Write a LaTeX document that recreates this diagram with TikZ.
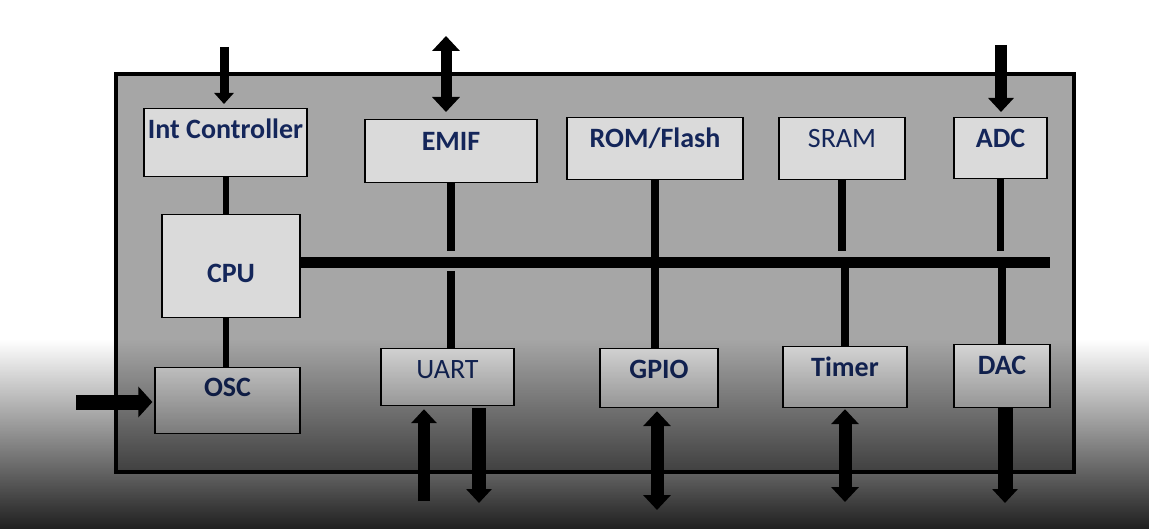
\documentclass[tikz,border=0pt]{standalone}
\usepackage{fontspec}
\setmainfont{Carlito}
\usetikzlibrary{arrows.meta,fadings}
\definecolor{chipgray}{RGB}{166,166,166}
\definecolor{boxgray}{RGB}{218,218,218}
\definecolor{labelblue}{RGB}{20,38,90}

\begin{document}
\begin{tikzpicture}[x=1pt,y=-1pt,
   blk/.style={draw=black,line width=1.2pt,fill=boxgray,inner sep=0pt,anchor=north,
      text=labelblue,font=\fontsize{28}{32}\selectfont\bfseries},
   plain/.style={font=\fontsize{28}{32}\selectfont},
   bus/.style={line width=11pt},
   link/.style={line width=7.5pt},
   io/.style={line width=#1,-{Triangle[width=25pt,length=14pt]}},
   iobi/.style={line width=#1,{Triangle[width=27pt,length=15pt]}-{Triangle[width=27pt,length=15pt]}}]
\fill[white] (0,0) rectangle (1149,529);
\useasboundingbox (0,0) rectangle (1149,529);
\draw[line width=4pt,fill=chipgray] (116,74) rectangle (1074,472);
\node[blk,minimum width=163pt,text height=29.5pt,text depth=38.5pt] (ic) at (225.5,108) {Int Controller};
\node[blk,minimum width=172pt,text height=30.5pt,text depth=32.5pt] (emif) at (451,119) {EMIF};
\node[blk,minimum width=176pt,text height=29.5pt,text depth=32.5pt] (rom) at (655,117) {ROM/Flash};
\node[blk,plain,minimum width=126pt,text height=29.5pt,text depth=32.5pt] (sram) at (842,117) {SRAM};
\node[blk,minimum width=93pt,text height=29.5pt,text depth=31.5pt] (adc) at (1000.5,117) {ADC};
\node[blk,minimum width=138pt,text height=67.5pt,text depth=35.5pt] (cpu) at (231,214) {CPU};
\node[blk,minimum width=145pt,text height=28.5pt,text depth=37.5pt] (osc) at (227.5,367) {OSC};
\node[blk,plain,minimum width=133pt,text height=29.5pt,text depth=27.5pt] (uart) at (447.5,348) {UART};
\node[blk,minimum width=118pt,text height=29.5pt,text depth=29.5pt] (gpio) at (659,348) {GPIO};
\node[blk,minimum width=124pt,text height=29.5pt,text depth=31.5pt] (timer) at (845,346) {Timer};
\node[blk,minimum width=96pt,text height=29.5pt,text depth=33.5pt] (dac) at (1002,344) {DAC};
\coordinate (busend) at (1050,262.5);
\coordinate (busup) at (0,251);
\coordinate (busdn) at (0,271);
\draw[bus] (cpu.east |- busend) -- (busend);
\draw[line width=6pt] (ic) -- (ic |- cpu.north);
\draw[line width=6pt] (ic |- cpu.south) -- (ic |- osc.north);
\draw[link] (emif) -- (emif |- busup);
\draw[link] (emif |- busdn) -- (emif |- uart.north);
\draw[link] (rom) -- (rom |- gpio.north);
\draw[link] (sram) -- (sram |- busup);
\draw[link] (timer |- busend) -- (timer);
\draw[link] (adc) -- (adc |- busup);
\draw[link] (dac |- busend) -- (dac);
\coordinate (icin) at (224,47);
\coordinate (emifio) at (446,36);
\coordinate (adcin) at (1001,45);
\coordinate (oscin) at (76,402);
\coordinate (uartrx) at (424,501);
\coordinate (uarttx) at (479,503);
\coordinate (gpioio) at (657,510);
\coordinate (timerio) at (845,502);
\coordinate (dacout) at (1005,503);
\draw[line width=9pt,-{Triangle[width=19pt,length=11pt]},shorten >=4pt] (icin) -- (icin |- ic.north);
\draw[iobi=11pt,shorten >=7pt] (emifio) -- (emifio |- emif.north);
\draw[io=12pt,shorten >=5pt] (adcin) -- (adcin |- adc.north);
\draw[line width=15pt,-{Triangle[width=30pt,length=14pt]},shorten >=2pt] (oscin) -- (oscin -| osc.west);
\draw[io=12pt,shorten >=3pt] (uartrx) -- (uartrx |- uart.south);
\draw[io=14pt,shorten <=2pt] (uarttx |- uart.south) -- (uarttx);
\draw[iobi=13pt,shorten >=3pt] (gpioio) -- (gpioio |- gpio.south);
\draw[iobi=13pt,shorten >=1pt] (timerio) -- (timerio |- timer.south);
\draw[io=15pt] (dacout |- dac.south) -- (dacout);
\fill[black,fill opacity=0.88,path fading=north] (0,340) rectangle (1149,529);
\end{tikzpicture}
\end{document}
